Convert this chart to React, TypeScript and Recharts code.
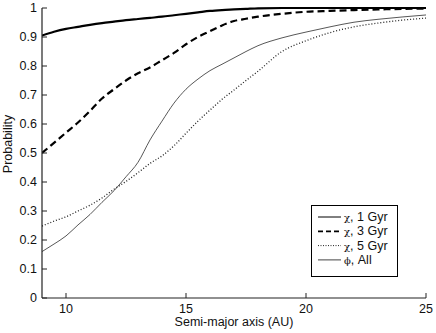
import { Line, LineChart, XAxis, YAxis } from "recharts";

// semi-major axis grid (AU)
const semiMajorAxis = [9, 9.5, 10, 10.5, 11, 11.5, 12, 12.5, 13, 13.5, 14, 14.5, 15, 15.5, 16, 16.5, 17, 17.5, 18, 19, 20, 21, 22, 23, 24, 25];

const chi1Gyr = [0.905, 0.918, 0.928, 0.935, 0.942, 0.948, 0.953, 0.958, 0.962, 0.966, 0.97, 0.975, 0.98, 0.985, 0.99, 0.993, 0.995, 0.997, 0.999, 1, 1, 1, 1, 1, 1, 1];
const chi3Gyr = [0.5, 0.535, 0.57, 0.605, 0.645, 0.688, 0.72, 0.75, 0.775, 0.795, 0.82, 0.845, 0.875, 0.9, 0.92, 0.94, 0.955, 0.963, 0.97, 0.98, 0.987, 0.99, 0.993, 0.995, 0.997, 0.998];
const chi5Gyr = [0.248, 0.265, 0.28, 0.3, 0.32, 0.345, 0.375, 0.402, 0.432, 0.464, 0.49, 0.525, 0.568, 0.61, 0.648, 0.685, 0.717, 0.75, 0.782, 0.85, 0.887, 0.915, 0.935, 0.948, 0.958, 0.965];
const phiAll = [0.16, 0.186, 0.214, 0.252, 0.288, 0.33, 0.37, 0.418, 0.468, 0.545, 0.61, 0.672, 0.72, 0.755, 0.784, 0.806, 0.828, 0.85, 0.87, 0.897, 0.917, 0.935, 0.951, 0.961, 0.969, 0.976];

const xTicks = [10, 15, 20, 25];
const yTicks = [0, 0.1, 0.2, 0.3, 0.4, 0.5, 0.6, 0.7, 0.8, 0.9, 1];

const SERIES = [
	{ key: "chi1", symbol: "χ", label: ", 1 Gyr", values: chi1Gyr, stroke: "#000", width: 2.2, dash: undefined as string | undefined },
	{ key: "chi3", symbol: "χ", label: ", 3 Gyr", values: chi3Gyr, stroke: "#000", width: 2.2, dash: "7 4" },
	{ key: "chi5", symbol: "χ", label: ", 5 Gyr", values: chi5Gyr, stroke: "#222", width: 1.3, dash: "1 2" },
	{ key: "phi", symbol: "ϕ", label: ", All", values: phiAll, stroke: "#444", width: 0.9, dash: undefined },
];

const data = semiMajorAxis.map((a, i) => {
	const row: Record<string, number> = { a };
	SERIES.forEach((s) => {
		row[s.key] = s.values[i];
	});
	return row;
});

const FONT = "'Liberation Sans', Arial, sans-serif";
const tickStyle = { fill: "#111", fontSize: 12.5, fontFamily: FONT };

function ChartLegend() {
	return (
		<svg width={88} height={73} style={{ position: "absolute", left: 311, top: 205 }}>
			<rect x={0.5} y={0.5} width={86} height={71} fill="#fff" stroke="#000" strokeWidth={1} />
			{SERIES.map((s, i) => {
				const cy = 12 + i * 14.3;
				return (
					<g key={s.key}>
						<line
							x1={7}
							x2={30}
							y1={cy}
							y2={cy}
							stroke={s.stroke}
							strokeWidth={s.key === "chi3" ? 1.8 : 1}
							strokeDasharray={s.key === "chi3" ? "5 3" : s.key === "chi5" ? "1 1.5" : undefined}
						/>
						<text x={33} y={cy + 4} fontSize={12.5} fontFamily={FONT} fill="#111">
							<tspan fontFamily="'DejaVu Serif', serif" fontSize={10}>
								{s.symbol}
							</tspan>
							{s.label}
						</text>
					</g>
				);
			})}
		</svg>
	);
}

export default function App() {
	return (
		<div style={{ position: "absolute", left: 0, top: 0, width: 436, height: 333, background: "#fff" }}>
			<LineChart width={436} height={333} data={data} margin={{ top: 8, right: 10, bottom: 0, left: 0 }}>
				<XAxis
					dataKey="a"
					type="number"
					domain={[9, 25]}
					ticks={xTicks}
					allowDataOverflow
					height={35}
					tickSize={-5}
					tickMargin={11}
					tick={tickStyle}
					axisLine={{ stroke: "#222", strokeWidth: 1.2 }}
					tickLine={{ stroke: "#222" }}
					label={{ value: "Semi-major axis (AU)", position: "insideBottom", offset: 7, style: { fill: "#111", fontSize: 12.5, fontFamily: FONT } }}
				/>
				<XAxis
					xAxisId="top"
					dataKey="a"
					type="number"
					orientation="top"
					domain={[9, 25]}
					ticks={xTicks}
					height={0}
					tickSize={-5}
					tick={() => <g />}
					axisLine={{ stroke: "#222", strokeWidth: 1.2 }}
					tickLine={{ stroke: "#222" }}
				/>
				<YAxis
					type="number"
					domain={[0, 1]}
					ticks={yTicks}
					width={42}
					tickSize={-5}
					tickMargin={10}
					tick={tickStyle}
					tickFormatter={(v: number) => String(v)}
					axisLine={{ stroke: "#222", strokeWidth: 1.2 }}
					tickLine={{ stroke: "#222" }}
					label={{
						content: () => (
							<text x={12} y={144} transform="rotate(-90 12 144)" textAnchor="middle" fill="#111" fontSize={12.5} fontFamily={FONT}>
								Probability
							</text>
						),
					}}
				/>
				<YAxis
					yAxisId="right"
					orientation="right"
					type="number"
					domain={[0, 1]}
					ticks={yTicks}
					width={0}
					tickSize={-5}
					tick={() => <g />}
					axisLine={{ stroke: "#222", strokeWidth: 1.2 }}
					tickLine={{ stroke: "#222" }}
				/>
				{SERIES.map((s) => (
					<Line
						key={s.key}
						dataKey={s.key}
						type="monotone"
						stroke={s.stroke}
						strokeWidth={s.width}
						strokeDasharray={s.dash}
						dot={false}
						activeDot={false}
						isAnimationActive={false}
					/>
				))}
			</LineChart>
			<ChartLegend />
		</div>
	);
}
